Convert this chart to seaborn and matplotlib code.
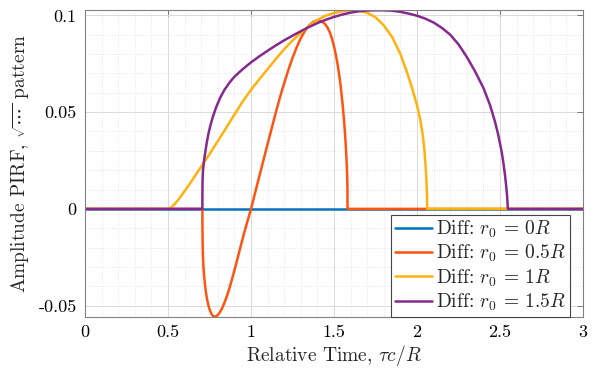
import numpy as np
import pandas as pd
import matplotlib
matplotlib.use("Agg")
import matplotlib.pyplot as plt
from matplotlib.ticker import MultipleLocator, FixedLocator, FixedFormatter
import seaborn as sns

# ---- data: relative time (tau*c/R) and amplitude for each off-axis position ----
t_r0_0 = [0.0, 3.0]
a_r0_0 = [0.0, 0.0]

t_r0_05 = [0.0, 0.7071, 0.7073, 0.7078, 0.7088, 0.7105, 0.713, 0.717, 0.722, 0.728,
           0.735, 0.743, 0.752, 0.762, 0.772, 0.780, 0.790, 0.800, 0.812, 0.825,
           0.840, 0.855, 0.870, 0.885, 0.900, 0.920, 0.940, 0.960, 0.980, 1.000,
           1.025, 1.050, 1.075, 1.100, 1.125, 1.150, 1.175, 1.200, 1.225, 1.250,
           1.275, 1.300, 1.325, 1.350, 1.375, 1.395, 1.405, 1.420, 1.435, 1.446,
           1.460, 1.475, 1.486, 1.500, 1.510, 1.520, 1.530, 1.540, 1.550, 1.556,
           1.562, 1.567, 1.571, 1.5745, 1.577, 1.579, 1.5803, 1.5811, 1.5815, 3.0]
a_r0_05 = [0.0, 0.0, -0.006, -0.012, -0.018, -0.024, -0.029, -0.034, -0.0385, -0.0428,
           -0.0465, -0.0497, -0.0523, -0.0543, -0.0554, -0.0557, -0.0555, -0.0548, -0.0535, -0.0515,
           -0.0485, -0.0450, -0.0410, -0.0365, -0.0318, -0.0252, -0.0186, -0.0120, -0.0060, 0.0,
           0.0084, 0.0168, 0.0252, 0.0335, 0.0418, 0.0500, 0.0578, 0.0650, 0.0718, 0.0780,
           0.0835, 0.0882, 0.0920, 0.0948, 0.0966, 0.0974, 0.0975, 0.0971, 0.0963, 0.0955,
           0.0938, 0.0912, 0.0885, 0.0840, 0.0800, 0.0755, 0.0700, 0.0635, 0.0555, 0.0500,
           0.0440, 0.0380, 0.0325, 0.0270, 0.0225, 0.0180, 0.0140, 0.0100, 0.0, 0.0]

t_r0_1 = [0.0, 0.50, 0.52, 0.54, 0.56, 0.58, 0.60, 0.625, 0.65, 0.675,
          0.70, 0.75, 0.80, 0.85, 0.90, 0.95, 1.00, 1.05, 1.10, 1.15,
          1.20, 1.25, 1.30, 1.35, 1.40, 1.45, 1.50, 1.55, 1.60, 1.65,
          1.70, 1.75, 1.80, 1.85, 1.90, 1.94, 1.97, 2.00, 2.02, 2.035,
          2.045, 2.052, 2.057, 2.060, 2.0616, 3.0]
a_r0_1 = [0.0, 0.0, 0.0008, 0.0025, 0.0045, 0.0068, 0.0092, 0.0122, 0.0154, 0.0186,
          0.0218, 0.0283, 0.0350, 0.0418, 0.0487, 0.0555, 0.0615, 0.0670, 0.0722, 0.0775,
          0.0825, 0.0870, 0.0910, 0.0945, 0.0977, 0.0998, 0.1012, 0.1021, 0.1026, 0.1024,
          0.1013, 0.0990, 0.0948, 0.0888, 0.0800, 0.0705, 0.0625, 0.0535, 0.0460, 0.0380,
          0.0300, 0.0220, 0.0140, 0.0070, 0.0, 0.0]

t_r0_15 = [0.0, 0.7071, 0.7072, 0.7076, 0.7085, 0.710, 0.712, 0.717, 0.723, 0.733,
           0.743, 0.755, 0.770, 0.790, 0.813, 0.840, 0.870, 0.900, 0.950, 1.000,
           1.050, 1.100, 1.150, 1.200, 1.250, 1.300, 1.350, 1.400, 1.450, 1.500,
           1.550, 1.600, 1.650, 1.700, 1.750, 1.800, 1.850, 1.900, 1.950, 2.000,
           2.050, 2.100, 2.150, 2.200, 2.250, 2.300, 2.350, 2.400, 2.440, 2.470,
           2.490, 2.510, 2.520, 2.530, 2.537, 2.542, 2.545, 2.5475, 3.0]
a_r0_15 = [0.0, 0.0, 0.0050, 0.0100, 0.0150, 0.0185, 0.0210, 0.0250, 0.0285, 0.0340,
           0.0385, 0.0430, 0.0475, 0.0525, 0.0572, 0.0615, 0.0652, 0.0683, 0.0722, 0.0757,
           0.0788, 0.0817, 0.0845, 0.0871, 0.0895, 0.0918, 0.0940, 0.0960, 0.0977, 0.0992,
           0.1004, 0.1014, 0.1021, 0.1025, 0.1026, 0.1026, 0.1024, 0.1018, 0.1009, 0.0998,
           0.0983, 0.0963, 0.0935, 0.0900, 0.0850, 0.0785, 0.0710, 0.0625, 0.0536, 0.0450,
           0.0380, 0.0295, 0.0240, 0.0175, 0.0120, 0.0075, 0.0035, 0.0, 0.0]

labels = [r"Diff: $r_0 \,=\, 0R$", r"Diff: $r_0 \,=\, 0.5R$",
          r"Diff: $r_0 \,=\, 1R$", r"Diff: $r_0 \,=\, 1.5R$"]
colors = ["#0072BD", "#FF5312", "#FFB20F", "#86298F"]

x_ticks = [0, 0.5, 1, 1.5, 2, 2.5, 3]
x_tick_labels = ["0", "0.5", "1", "1.5", "2", "2.5", "3"]
y_ticks = [-0.05, 0, 0.05, 0.1]
y_tick_labels = ["-0.05", "0", "0.05", "0.1"]

# ---- long-form table ----
series = [(t_r0_0, a_r0_0), (t_r0_05, a_r0_05), (t_r0_1, a_r0_1), (t_r0_15, a_r0_15)]
frames = []
for (t, a), lab in zip(series, labels):
    frames.append(pd.DataFrame({"t": t, "a": a, "case": lab}))
df = pd.concat(frames, ignore_index=True)

sns.set_theme(style="white")
plt.rcParams["font.family"] = "cmr10"
plt.rcParams["mathtext.fontset"] = "cm"
plt.rcParams["axes.unicode_minus"] = False
plt.rcParams["axes.formatter.use_mathtext"] = True

fig = plt.figure(figsize=(5.94, 3.68), dpi=100)
ax = fig.add_axes([0.1431, 0.1394, 0.8384, 0.8326])

for lab, col in zip(labels, colors):
    sub = df[df["case"] == lab]
    sns.lineplot(data=sub, x="t", y="a", ax=ax, color=col, lw=1.8,
                 estimator=None, sort=False, label=lab)

ax.set_xlim(0, 3)
ax.set_ylim(-0.0557, 0.1026)

ax.xaxis.set_major_locator(FixedLocator(x_ticks))
ax.xaxis.set_major_formatter(FixedFormatter(x_tick_labels))
ax.yaxis.set_major_locator(FixedLocator(y_ticks))
ax.yaxis.set_major_formatter(FixedFormatter(y_tick_labels))
ax.xaxis.set_minor_locator(MultipleLocator(0.1))
ax.yaxis.set_minor_locator(MultipleLocator(0.01))

ax.grid(True, which="major", color="#dadada", lw=0.7, ls="-")
ax.grid(True, which="minor", color="#e2e2e2", lw=0.6, ls=":")
ax.set_axisbelow(True)

ax.tick_params(which="major", direction="in", length=4, width=0.7, color="#777777",
               top=True, right=True, labelsize=13, labelcolor="black", pad=6)
ax.tick_params(which="minor", length=0)
for s in ax.spines.values():
    s.set_color("#808080")
    s.set_linewidth(0.8)

ax.set_xlabel(r"Relative Time, $\tau c/R$", fontsize=14, labelpad=2)
ax.set_ylabel(r"Amplitude PIRF, $\sqrt{\cdots}$ pattern", fontsize=14, labelpad=5)

leg = ax.legend(loc="lower right", bbox_to_anchor=(0.974, 0.0), fontsize=14,
                frameon=True, fancybox=False, framealpha=1, edgecolor="#444444",
                handlelength=1.9, handletextpad=0.25, labelspacing=0.15,
                borderpad=0.2, borderaxespad=0.0)
leg.get_frame().set_linewidth(0.8)

fig.savefig("out.png", dpi=100)
